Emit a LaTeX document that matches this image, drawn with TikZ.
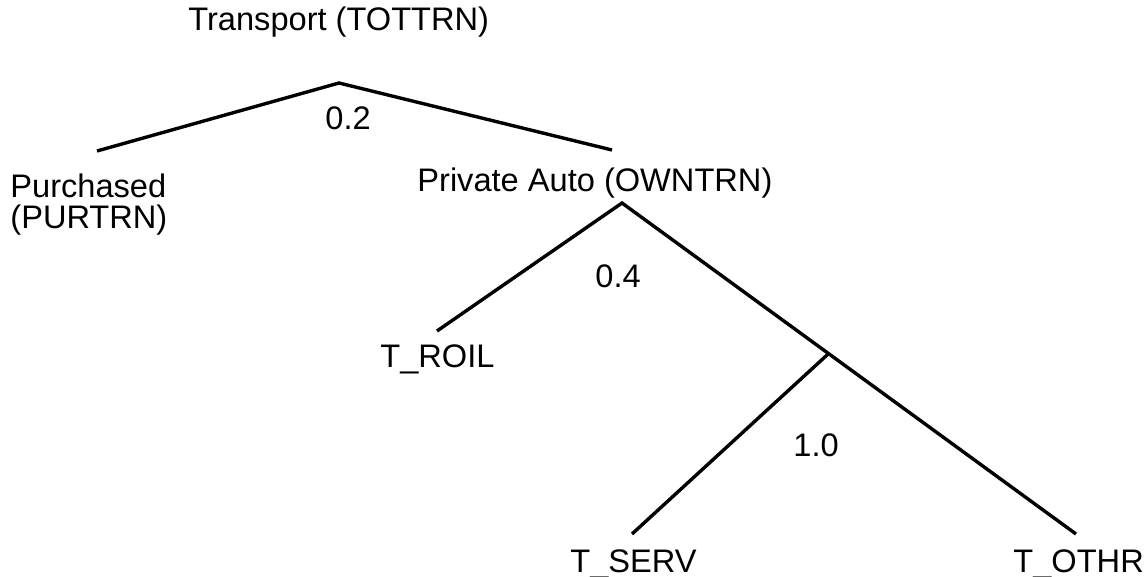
\documentclass[tikz,border=0pt]{standalone}
\usepackage{fontspec}
\setmainfont{Liberation Sans}
\usetikzlibrary{calc}
\begin{document}
\begin{tikzpicture}
[x=0.5pt,y=-0.5pt,%
  labeldecorate/.style={font=\fontsize{16.3}{15.6}\selectfont,inner sep=0pt,anchor=base west,align=left},%
  linedecorate/.style={-,line width=1.7pt}]
\useasboundingbox (0,0) rectangle (1146,577);
%% labels
\foreach \nodename/\x/\y/\txt in {tottrn/188/31/Transport (TOTTRN),
  purtrn/10/229/Purchased\\(PURTRN), owntrn/417/192/Private Auto (OWNTRN),
  troil/380/367/T\_ROIL, tserv/570/572/T\_SERV, tothr/1013/572/T\_OTHR,
  w02/325/130/0.2, w04/595/288/0.4, w10/793/456/1.0} {
  \node (\nodename) at (\x,\y) [labeldecorate] {\txt};
}
%% branch points and ends
\coordinate (topv) at (339,83);
\coordinate (purend) at (97,151);
\coordinate (ownend) at (612,150);
\coordinate (ownv) at (622,203);
\coordinate (roilend) at (437,331);
\coordinate (othrend) at (1076,534);
\coordinate (servend) at (632,534);
\coordinate (splitv) at ($(ownv)!0.455!(othrend)$);
%% lines
\draw[linedecorate] (purend) -- (topv) -- (ownend);
\draw[linedecorate] (roilend) -- (ownv) -- (othrend);
\draw[linedecorate] (servend) -- (splitv);
\end{tikzpicture}
\end{document}
